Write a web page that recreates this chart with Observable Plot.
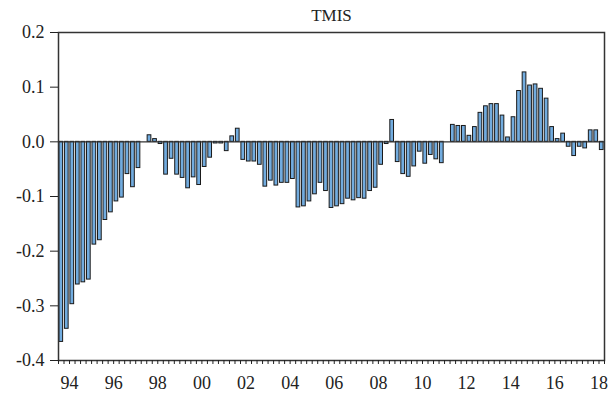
<!DOCTYPE html>
<html><head><meta charset="utf-8">
<script src="https://cdn.jsdelivr.net/npm/d3@7"></script>
<script src="https://cdn.jsdelivr.net/npm/@observablehq/plot@0.6"></script>
<style>
body{margin:0;background:#fff}
svg{display:block}
#chart svg text{font-family:"Liberation Serif","Times New Roman",serif !important;font-size:18px !important;fill:#222}
#chart svg text.ttl{font-size:17px !important}
</style>
</head><body><div id="chart"></div>
<script>
const title = "TMIS";
const startYear = 1994; // first observation 1994Q1, quarterly
const values = [
 -0.366,-0.342,-0.297,-0.261,-0.257,-0.252,-0.188,-0.180,-0.143,-0.129,
 -0.109,-0.102,-0.059,-0.083,-0.048, 0.000, 0.012, 0.005,-0.004,-0.060,
 -0.031,-0.060,-0.066,-0.085,-0.065,-0.079,-0.046,-0.029,-0.003,-0.003,
 -0.017, 0.010, 0.024,-0.033,-0.036,-0.036,-0.042,-0.082,-0.071,-0.080,
 -0.075,-0.075,-0.068,-0.120,-0.118,-0.109,-0.096,-0.075,-0.090,-0.121,
 -0.118,-0.114,-0.104,-0.107,-0.103,-0.104,-0.090,-0.084,-0.042,-0.004,
  0.040,-0.037,-0.059,-0.064,-0.045,-0.018,-0.040,-0.024,-0.032,-0.039,
  0.000, 0.031, 0.029, 0.029, 0.011, 0.027, 0.053, 0.065, 0.069, 0.069,
  0.048, 0.008, 0.045, 0.093, 0.127, 0.103, 0.105, 0.097, 0.079, 0.027,
  0.005, 0.015,-0.009,-0.026,-0.009,-0.012, 0.021, 0.021,-0.015
];
const yearTicks = [1994,1996,1998,2000,2002,2004,2006,2008,2010,2012,2014,2016,2018];
const yearLabels = ["94","96","98","00","02","04","06","08","10","12","14","16","18"];
const yTicks = [-0.4,-0.3,-0.2,-0.1,0.0,0.1,0.2];

const data = values.map((v, i) => ({t0: startYear + i / 4, t1: startYear + (i + 1) / 4, v}));
const quarterTicks = d3.range(values.length + 1).map(i => startYear + i / 4);
const labelPos = yearTicks.map(y => y + 0.5);
const labelMap = new Map(labelPos.map((p, i) => [p, yearLabels[i]]));

const chart = Plot.plot({
  width: 614, height: 396,
  marginLeft: 58, marginRight: 10, marginTop: 32, marginBottom: 36,
  style: {fontFamily: "'Liberation Serif',serif", fontSize: "18px", color: "#222", background: "#fff"},
  x: {domain: [startYear, startYear + values.length / 4], axis: null},
  y: {domain: [-0.4, 0.2], axis: null},
  marks: [
    Plot.rectY(data, {x1: "t0", x2: "t1", y1: 0, y2: "v", fill: "#72acdf", stroke: "#1a1a1a", strokeWidth: 1, insetLeft: 0.9, insetRight: 0.9}),
    Plot.ruleY([0], {stroke: "#333", strokeWidth: 1.2}),
    Plot.frame({stroke: "#333", strokeWidth: 1.5}),
    Plot.axisY(yTicks, {anchor: "left", label: null, tickSize: 8, tickPadding: 6, tickFormat: d => d.toFixed(1)}),
    Plot.axisX(quarterTicks, {anchor: "bottom", label: null, tickSize: 4, tickFormat: () => ""}),
    Plot.axisX(labelPos, {anchor: "bottom", label: null, tickSize: 0, tickPadding: 16, tickFormat: d => labelMap.get(d)}),
    Plot.text([title], {frameAnchor: "top", dy: -24, className: "ttlmark"})
  ]
});
chart.querySelectorAll(".ttlmark text").forEach(t => t.classList.add("ttl"));
document.getElementById("chart").appendChild(chart);
</script>
</body></html>
